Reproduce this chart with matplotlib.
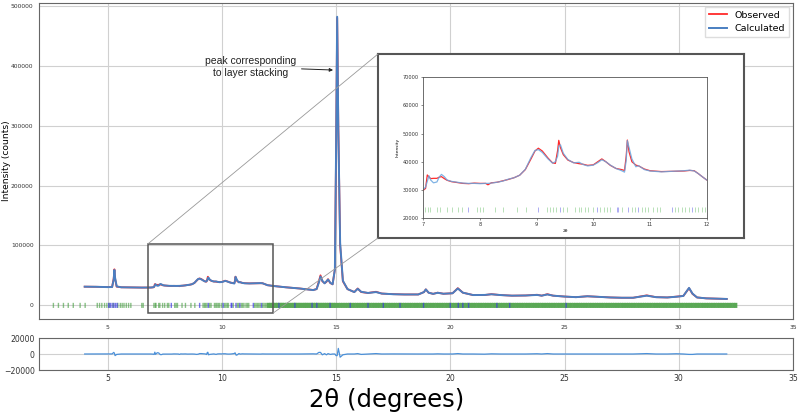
import matplotlib

matplotlib.use("Agg")

import matplotlib.pyplot as plt  # noqa: E402
import numpy as np  # noqa: E402
from matplotlib.patches import ConnectionPatch, Rectangle  # noqa: E402

# --- data ------------------------------------------------------------------
two_theta = [
    4.00, 4.50, 5.00, 5.20, 5.27, 5.30, 5.33, 5.40, 5.60, 6.00, 6.50, 6.90,
    7.00, 7.04, 7.07, 7.10, 7.13, 7.18, 7.24, 7.28, 7.32, 7.37, 7.42, 7.50,
    7.60, 7.70, 7.80, 7.90, 8.00, 8.10, 8.14, 8.20, 8.30, 8.40, 8.50, 8.60,
    8.70, 8.80, 8.90, 8.97, 9.03, 9.10, 9.20, 9.28, 9.33, 9.37, 9.39, 9.42,
    9.47, 9.55, 9.65, 9.75, 9.82, 9.90, 10.00, 10.08, 10.15, 10.22, 10.30,
    10.40, 10.50, 10.55, 10.58, 10.60, 10.63, 10.68, 10.75, 10.80, 10.90,
    11.00, 11.20, 11.40, 11.60, 11.70, 11.78, 11.85, 11.92, 12.00, 12.30,
    12.80, 13.40, 14.00, 14.15, 14.25, 14.32, 14.40, 14.50, 14.58, 14.65,
    14.75, 14.85, 14.95, 15.00, 15.05, 15.10, 15.18, 15.30, 15.50, 15.80,
    15.95, 16.10, 16.40, 16.75, 17.00, 17.50, 18.00, 18.60, 18.85, 18.93,
    19.05, 19.25, 19.45, 19.70, 20.10, 20.33, 20.55, 21.00, 21.50, 21.80,
    22.20, 22.70, 23.30, 23.80, 24.00, 24.25, 24.50, 25.00, 25.50, 26.00,
    26.50, 27.00, 27.50, 28.00, 28.60, 29.00, 29.50, 29.90, 30.20, 30.45,
    30.60, 30.80, 31.20, 31.60, 32.10,
]
observed = [
    31000, 30800, 30300, 30500, 45000, 60000, 44000, 31000, 30000, 29800,
    29500, 29600, 29900, 30500, 35300, 34600, 34000, 34100, 34100, 34500,
    34700, 34000, 33400, 32900, 32600, 32300, 32200, 32400, 32300, 32300,
    31800, 32500, 32700, 33200, 33700, 34300, 35200, 37200, 41000, 43800,
    44800, 43800, 41300, 39600, 39400, 44000, 47600, 45000, 42500, 40600,
    39700, 39300, 39100, 38700, 38900, 40000, 41000, 40000, 38700, 37600,
    37200, 36900, 42000, 47700, 43500, 40000, 38800, 38500, 37400, 36800,
    36500, 36600, 36700, 36900, 36800, 35800, 34700, 33500, 32000, 30000,
    28000, 25500, 27000, 40000, 50000, 40000, 37000, 39000, 43500, 37000,
    35000, 60000, 250000, 480000, 300000, 100000, 40000, 27000, 22000,
    28000, 22000, 20500, 22500, 19500, 18500, 18000, 18000, 22000, 26500,
    21000, 19000, 21000, 19200, 20000, 28500, 21000, 17000, 17000, 18500,
    17000, 16000, 16300, 17500, 16000, 18500, 16000, 14500, 13500, 15000,
    14000, 13000, 12500, 12500, 16500, 13500, 13000, 14500, 15500, 28500,
    19000, 13000, 11500, 11000, 10500,
]
calculated = [
    31000, 30800, 30300, 30400, 43000, 59000, 46000, 31500, 30000, 29800,
    29500, 29600, 30100, 31000, 33000, 35000, 33500, 32500, 32800, 34500,
    35500, 34700, 33500, 33000, 32700, 32400, 32300, 32300, 32200, 32300,
    32300, 32400, 32700, 33100, 33800, 34300, 35200, 37300, 41500, 44000,
    44300, 43300, 41000, 39500, 40000, 42000, 45500, 46000, 43000, 40800,
    39600, 39800, 39000, 38500, 38800, 39700, 40700, 40000, 38800, 37600,
    36800, 36300, 40500, 47500, 45000, 41000, 38200, 38600, 37200, 36700,
    36400, 36600, 36800, 37000, 36700, 35800, 34700, 33500, 32000, 30000,
    28000, 25300, 27000, 38000, 48000, 41000, 36500, 40000, 43000, 37500,
    35000, 60000, 252000, 482000, 293000, 104000, 41000, 27000, 22000,
    27500, 22500, 20500, 22000, 19500, 18400, 18000, 18000, 22000, 26500,
    21000, 19000, 20800, 19200, 20000, 28000, 21000, 17000, 17200, 18300,
    17000, 16000, 16300, 17200, 16000, 18000, 16000, 14500, 13500, 15000,
    14000, 13000, 12500, 12500, 16000, 13500, 13000, 14200, 15500, 29000,
    19500, 13000, 11500, 11000, 10500,
]

# reflection positions (phase 1 green, phase 2 blue)
green_ticks = [
    2.63, 2.85, 3.07, 3.28, 3.50, 3.80, 4.02, 4.55, 4.65, 4.75, 4.87, 4.97,
    5.08, 5.25, 5.45, 5.56, 5.64, 5.72, 5.82, 5.92, 6.02, 6.50, 6.56,
    7.03, 7.09, 7.12, 7.24, 7.29, 7.41, 7.50, 7.62, 7.68, 7.94, 8.00, 8.06,
    8.26, 8.41, 8.65, 8.82, 9.18, 9.24, 9.29, 9.35, 9.47, 9.53, 9.68, 9.74,
    9.79, 9.85, 9.91, 10.00, 10.12, 10.18, 10.24, 10.29, 10.50, 10.68,
    10.74, 10.85, 10.91, 10.97, 11.06, 11.12, 11.18, 11.44, 11.50, 11.56,
    11.62, 11.68, 11.79, 11.85, 11.91, 11.97,
    12.04, 12.12, 12.20, 12.27, 12.36, 12.43, 12.52, 12.60, 12.66, 12.75,
    12.83, 12.90, 12.98, 13.07, 13.15, 13.22, 13.30, 13.38, 13.46, 13.55,
    13.63, 13.70, 13.78, 13.86, 13.94, 14.02, 14.10, 14.18, 14.26, 14.34,
    14.42, 14.50, 14.58, 14.66, 14.74, 14.82, 14.90, 14.98,
    15.1, 15.2, 15.3, 15.4, 15.5, 15.6, 15.7, 15.8, 15.9, 16.0,
    16.1, 16.2, 16.3, 16.4, 16.5, 16.6, 16.7, 16.8, 16.9, 17.0,
    17.1, 17.2, 17.3, 17.4, 17.5, 17.6, 17.7, 17.8, 17.9, 18.0,
    18.1, 18.2, 18.3, 18.4, 18.5, 18.6, 18.7, 18.8, 18.9, 19.0,
    19.1, 19.2, 19.3, 19.4, 19.5, 19.6, 19.7, 19.8, 19.9, 20.0,
    20.1, 20.2, 20.3, 20.4, 20.5, 20.6, 20.7, 20.8, 20.9, 21.0,
    21.1, 21.2, 21.3, 21.4, 21.5, 21.6, 21.7, 21.8, 21.9, 22.0,
    22.1, 22.2, 22.3, 22.4, 22.5, 22.6, 22.7, 22.8, 22.9, 23.0,
    23.1, 23.2, 23.3, 23.4, 23.5, 23.6, 23.7, 23.8, 23.9, 24.0,
    24.1, 24.2, 24.3, 24.4, 24.5, 24.6, 24.7, 24.8, 24.9, 25.0,
    25.1, 25.2, 25.3, 25.4, 25.5, 25.6, 25.7, 25.8, 25.9, 26.0,
    26.1, 26.2, 26.3, 26.4, 26.5, 26.6, 26.7, 26.8, 26.9, 27.0,
    27.1, 27.2, 27.3, 27.4, 27.5, 27.6, 27.7, 27.8, 27.9, 28.0,
    28.1, 28.2, 28.3, 28.4, 28.5, 28.6, 28.7, 28.8, 28.9, 29.0,
    29.1, 29.2, 29.3, 29.4, 29.5, 29.6, 29.7, 29.8, 29.9, 30.0,
    30.1, 30.2, 30.3, 30.4, 30.5, 30.6, 30.7, 30.8, 30.9, 31.0,
    31.1, 31.2, 31.3, 31.4, 31.5, 31.6, 31.7, 31.8, 31.9, 32.0,
    32.1, 32.2, 32.3, 32.4, 32.5,
]
blue_ticks = [
    5.05, 5.12, 5.20, 5.28, 5.35, 5.42, 7.79, 9.03, 9.41, 10.06, 10.41,
    10.44, 10.62, 10.79, 11.38, 11.74, 12.50, 13.20, 13.95, 14.16, 14.74,
    15.62, 16.40, 17.07, 17.80, 18.83, 20.00, 20.35, 20.55, 20.80, 22.04,
    22.60, 25.07,
]

zoom_x = (6.75, 12.25)
zoom_y = (-13000, 102000)

BLUE = "#4a7fc1"
RED = "#ff2a2a"

obs = np.array(observed, dtype=float)
calc = np.array(calculated, dtype=float)
diff = obs - calc
green = np.array(green_ticks)
sparse = green < 12.0  # low-angle reflections are drawn as thin separate marks

fig = plt.figure(figsize=(7.99, 4.2), dpi=100)

# --- main pattern ----------------------------------------------------------
ax = fig.add_axes([39 / 799, 1 - 319 / 420, 754 / 799, 316 / 420])
ax.plot(two_theta, obs, color=RED, lw=1.3, label="Observed", zorder=3)
ax.plot(two_theta, calc, color=BLUE, lw=1.4, label="Calculated", zorder=4)
ax.vlines(green[sparse], -4500, 4000, colors="#4aa045", lw=1.0, alpha=0.65,
          zorder=2, snap=False)
ax.vlines(green[~sparse], -4500, 4000, colors="#5aa855", lw=2.1, zorder=2,
          snap=False)
ax.vlines(blue_ticks, -4500, 4000, colors="#3a3ae0", lw=1.0, alpha=0.7,
          zorder=2, snap=False)
ax.set_xlim(2, 35)
ax.set_ylim(-23000, 505000)
ax.set_xticks(range(5, 36, 5))
ax.set_yticks(range(0, 500001, 100000))
ax.tick_params(length=0, labelsize=4.3, pad=4, colors="#333")
ax.grid(color="#d0d0d0", lw=0.8)
ax.set_axisbelow(True)
for s in ax.spines.values():
    s.set_color("#666")
fig.text(6.5 / 799, 1 - 161 / 420, "Intensity (counts)", fontsize=6.6,
         rotation=90, ha="center", va="center")
ax.legend(loc="upper right", fontsize=6.8, borderaxespad=0.4,
          fancybox=False, edgecolor="#ddd", framealpha=1)

ax.annotate("peak corresponding\nto layer stacking", xy=(14.87, 393000),
            xytext=(11.25, 398000), ha="center", va="center",
            fontsize=7.5, family="Liberation Sans", color="#222",
            arrowprops=dict(arrowstyle="-|>", color="#222", lw=0.7,
                            mutation_scale=5, shrinkA=2, shrinkB=0))

ax.add_patch(Rectangle((zoom_x[0], zoom_y[0]), zoom_x[1] - zoom_x[0],
                       zoom_y[1] - zoom_y[0], fill=False, ec="#555",
                       lw=1.1, zorder=5))

# --- residual ----------------------------------------------------------------
axr = fig.add_axes([39 / 799, 1 - 370 / 420, 754 / 799, 32 / 420])
axr.plot(two_theta, diff, color="#4a90d9", lw=0.9)
axr.set_xlim(2, 35)
axr.set_ylim(-20000, 20000)
axr.set_xticks(range(5, 36, 5))
axr.set_yticks([-20000, 0, 20000])
axr.tick_params(length=0, labelsize=5.6, pad=3, colors="#333")
axr.grid(color="#d0d0d0", lw=0.8)
for s in axr.spines.values():
    s.set_color("#666")
fig.text(386.5 / 799, 1 - 400 / 420, "2θ (degrees)", fontsize=17.5,
         ha="center", va="center")

# --- pasted zoom panel --------------------------------------------------------
frame = fig.add_axes([378 / 799, 1 - 238 / 420, 366 / 799, 184 / 420])
frame.set_facecolor("white")
frame.set_xticks([])
frame.set_yticks([])
for s in frame.spines.values():
    s.set_color("#555")
    s.set_linewidth(1.5)

for corner_data, corner_ax in (((zoom_x[0], zoom_y[1]), (0, 1)),
                               ((zoom_x[1], zoom_y[0]), (0, 0))):
    con = ConnectionPatch(xyA=corner_data, coordsA=ax.transData,
                          xyB=corner_ax, coordsB=frame.transAxes,
                          color="#999", lw=0.6)
    fig.add_artist(con)

axi = fig.add_axes([423.3 / 799, 1 - 218 / 420, 283.4 / 799, 140.7 / 420])
axi.plot(two_theta, obs, color=RED, lw=0.9)
axi.plot(two_theta, calc, color="#6aa6e0", lw=0.9, alpha=0.85)
axi.vlines(green_ticks, 22300, 24000, colors="#5cb85c", lw=0.5, alpha=0.6)
axi.vlines(blue_ticks, 22300, 24000, colors="#4040e0", lw=0.5, alpha=0.6)
axi.set_xlim(7, 12)
axi.set_ylim(20000, 70000)
axi.set_xticks(range(7, 13))
axi.set_yticks(range(20000, 70001, 10000))
axi.tick_params(length=1.5, width=0.4, labelsize=3.6, pad=1.5, colors="#333")
for s in axi.spines.values():
    s.set_color("#555")
    s.set_linewidth(0.6)
axi.set_ylabel("Intensity", fontsize=3.2, labelpad=2)
axi.set_xlabel("2θ", fontsize=3.2, labelpad=1.5)

fig.savefig("out.png", dpi=100)
